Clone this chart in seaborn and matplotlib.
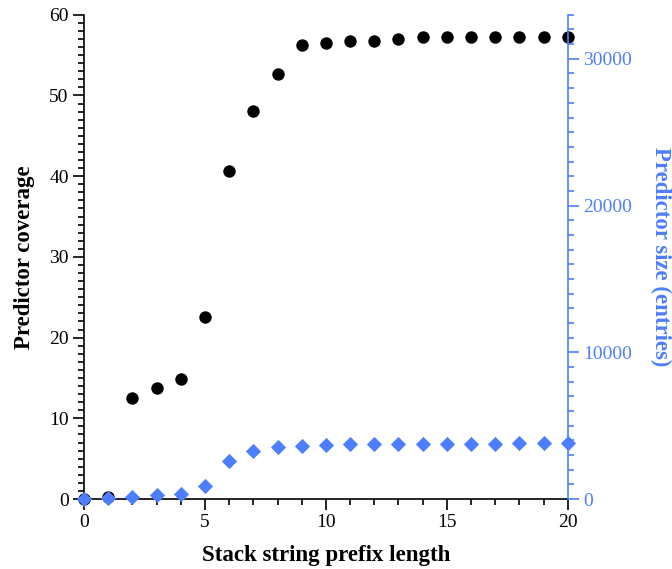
import matplotlib
matplotlib.use("Agg")
import matplotlib.pyplot as plt
import seaborn as sns
import pandas as pd
from matplotlib.ticker import MultipleLocator

prefix_len = list(range(0, 21))
coverage = [0.0, 0.3, 12.5, 13.8, 14.9, 22.6, 40.7, 48.1, 52.7, 56.2, 56.5,
            56.7, 56.7, 57.0, 57.2, 57.2, 57.2, 57.2, 57.2, 57.2, 57.2]
size_entries = [0, 100, 150, 250, 370, 890, 2570, 3270, 3560, 3610, 3700,
                3750, 3750, 3750, 3770, 3770, 3770, 3780, 3790, 3790, 3790]

df = pd.DataFrame({"x": prefix_len, "cov": coverage, "size": size_entries})

sns.set_theme(style="ticks")
plt.rcParams["font.family"] = ["Liberation Serif", "DejaVu Serif"]
plt.rcParams["text.color"] = "black"
plt.rcParams["axes.labelcolor"] = "black"
plt.rcParams["xtick.color"] = "black"
plt.rcParams["ytick.color"] = "black"
plt.rcParams["axes.edgecolor"] = "black"

blue = "#4d7eff"

fig = plt.figure(figsize=(6.72, 5.69), dpi=100)
ax = fig.add_axes([0.125, 0.123, 0.72, 0.851])
ax2 = ax.twinx()

sns.scatterplot(data=df, x="x", y="cov", ax=ax, color="black", s=80,
                marker="o", edgecolor="black", linewidth=0, clip_on=False, zorder=3)
sns.scatterplot(data=df, x="x", y="size", ax=ax2, color=blue, s=60,
                marker="D", edgecolor=blue, linewidth=0, clip_on=False, zorder=4)

ax.set_xlim(0, 20)
ax.set_ylim(0, 60)
ax2.set_ylim(0, 33000)

ax.xaxis.set_major_locator(MultipleLocator(5))
ax.xaxis.set_minor_locator(MultipleLocator(1))
ax.yaxis.set_major_locator(MultipleLocator(10))
ax.yaxis.set_minor_locator(MultipleLocator(1))
ax2.yaxis.set_major_locator(MultipleLocator(10000))
ax2.yaxis.set_minor_locator(MultipleLocator(1000))

for a in (ax, ax2):
    a.spines["top"].set_visible(False)
ax2.spines["left"].set_visible(False)
ax2.spines["bottom"].set_visible(False)
ax.spines["right"].set_visible(False)
ax2.spines["right"].set_color(blue)
ax2.spines["right"].set_linewidth(1.2)
ax.spines["left"].set_linewidth(1.2)
ax.spines["bottom"].set_linewidth(1.2)
ax.spines["left"].set_color("black")
ax.spines["bottom"].set_color("black")

ax.tick_params(axis="both", which="major", direction="out", length=8, width=1.2,
               labelsize=14, colors="black", pad=3)
ax.tick_params(axis="both", which="minor", direction="out", length=4, width=1.2,
               colors="black")
ax2.tick_params(axis="y", which="major", direction="out", length=8, width=1.2,
                labelsize=14, colors=blue, pad=3)
ax2.tick_params(axis="y", which="minor", direction="out", length=4, width=1.2,
                colors=blue)

ax.set_xlabel("Stack string prefix length", fontsize=16.5, fontweight="bold",
              labelpad=10, color="black")
ax.set_ylabel("Predictor coverage", fontsize=16.5, fontweight="bold", labelpad=10,
              color="black")
ax2.set_ylabel("Predictor size (entries)", fontsize=16.5, fontweight="bold",
               color=blue, rotation=270, labelpad=28)

fig.savefig("out.png", dpi=100)
